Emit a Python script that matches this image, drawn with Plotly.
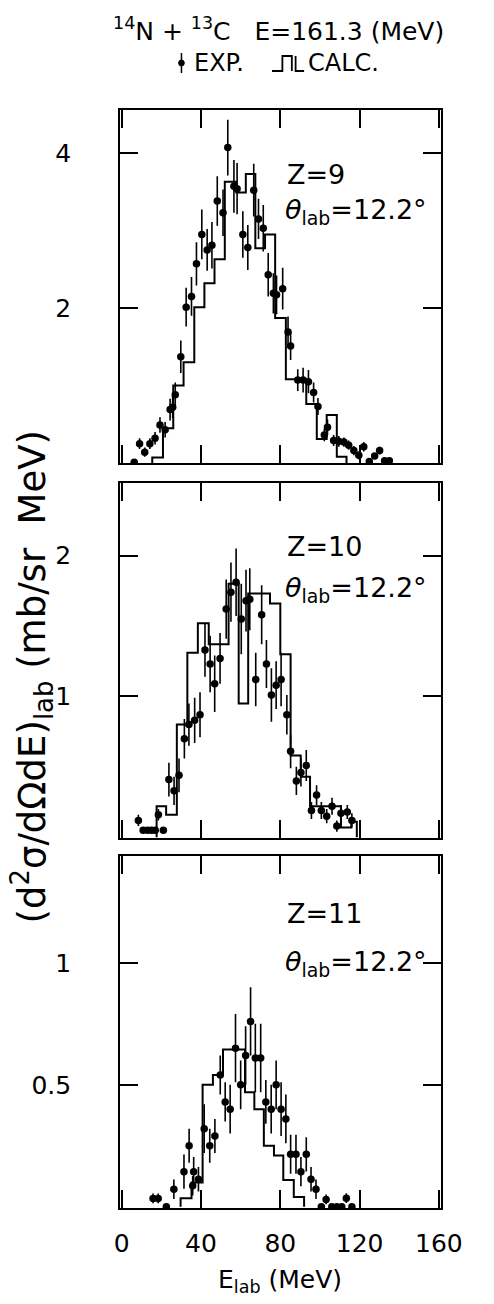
import plotly.graph_objects as go

# ---------------- data ----------------
# Panel Z=9
z9_E = [6.3, 9.0, 11.6, 14.2, 16.8, 19.3, 21.9, 24.4, 25.7, 27.0, 29.8, 32.5, 35.2, 37.7, 40.4,
        43.1, 45.5, 48.2, 51.1, 53.5, 56.6, 58.2, 61.1, 63.6, 66.6, 69.0, 71.4, 73.9, 76.5, 78.1,
        81.2, 83.9, 85.2, 88.8, 91.5, 94.2, 96.8, 99.0, 102.2, 103.8, 106.9, 109.5, 112.1, 114.5,
        117.1, 119.6, 122.1, 124.9, 127.6, 130.1, 132.6, 135.0]
z9_v = [0.01, 0.25, 0.14, 0.25, 0.32, 0.49, 0.43, 0.69, 0.72, 0.88, 1.37, 2.01, 2.15, 2.57, 2.95,
        2.75, 2.81, 3.38, 3.23, 4.07, 3.57, 3.54, 2.95, 2.78, 3.52, 3.15, 3.03, 2.43, 2.19, 2.17,
        2.25, 1.69, 1.51, 1.07, 1.07, 1.05, 0.91, 0.73, 0.36, 0.46, 0.29, 0.28, 0.27, 0.23,
        0.16, 0.10, 0.21, 0.02, 0.09, 0.16, 0.03, 0.03]
z9_err = [0.02, 0.07, 0.06, 0.07, 0.08, 0.10, 0.10, 0.14, 0.14, 0.16, 0.21, 0.25, 0.25, 0.28, 0.32,
          0.27, 0.30, 0.32, 0.30, 0.36, 0.34, 0.33, 0.30, 0.29, 0.34, 0.26, 0.30, 0.28, 0.26, 0.25,
          0.27, 0.20, 0.18, 0.14, 0.16, 0.15, 0.13, 0.11, 0.08, 0.10, 0.07, 0.07, 0.06, 0.06,
          0.06, 0.05, 0.06, 0.02, 0.04, 0.05, 0.02, 0.02]
z9_edges = [15.4, 20.8, 26.0, 31.2, 36.6, 41.7, 46.8, 52.0, 57.8, 62.6, 67.4, 72.3, 77.4, 82.8,
            93.1, 98.4, 103.4, 108.5, 113.4]
z9_calc = [0.07, 0.45, 1.00, 1.30, 2.01, 2.32, 2.63, 3.63, 3.49, 3.73, 2.77, 2.95, 1.87, 1.08,
           0.76, 0.31, 0.62, 0.08]

# Panel Z=10
z10_E = [8.4, 10.8, 13.0, 15.0, 16.9, 18.5, 21.0, 23.8, 26.4, 28.9, 31.6, 33.9, 36.8, 39.5, 42.0,
         44.6, 46.9, 49.6, 52.7, 55.1, 57.7, 60.3, 62.7, 64.6, 67.6, 70.6, 73.0, 75.5, 77.9, 80.4,
         83.3, 85.2, 88.1, 90.4, 93.1, 95.7, 98.3, 100.7, 103.4, 106.1, 108.5, 110.6, 113.8, 116.1]
z10_v = [0.12, 0.05, 0.05, 0.05, 0.05, 0.16, 0.05, 0.41, 0.33, 0.44, 0.70, 0.80, 0.83, 0.87, 1.33,
         1.23, 1.09, 1.27, 1.62, 1.74, 1.81, 1.55, 1.68, 1.69, 1.12, 1.58, 1.23, 1.01, 1.08, 1.12,
         0.87, 0.61, 0.40, 0.46, 0.51, 0.19, 0.30, 0.19, 0.15, 0.22, 0.08, 0.17, 0.18, 0.12]
z10_err = [0.04, 0.02, 0.02, 0.02, 0.02, 0.04, 0.02, 0.12, 0.10, 0.12, 0.14, 0.15, 0.16, 0.16, 0.19,
           0.20, 0.20, 0.18, 0.21, 0.21, 0.24, 0.25, 0.22, 0.22, 0.19, 0.21, 0.17, 0.19, 0.17, 0.19,
           0.14, 0.12, 0.10, 0.10, 0.11, 0.06, 0.07, 0.06, 0.05, 0.06, 0.04, 0.06, 0.05, 0.05]
z10_edges = [17.6, 22.4, 27.8, 33.1, 38.4, 43.9, 53.9, 59.0, 63.8, 74.8, 80.0, 85.2, 90.3, 95.0,
             110.6, 115.8, 118.6]
z10_calc = [0.22, 0.16, 0.80, 1.31, 1.52, 1.37, 1.80, 0.95, 1.73, 1.66, 1.30, 0.58, 0.43, 0.22,
            0.07, 0.11]

# Panel Z=11
z11_E = [15.8, 18.4, 22.5, 26.3, 31.4, 34.0, 35.8, 36.3, 38.7, 41.6, 44.4, 47.0, 49.7, 52.2, 54.7,
         57.4, 60.0, 62.5, 65.0, 67.4, 70.1, 72.7, 75.4, 77.9, 80.4, 82.8, 85.2, 87.9, 90.4, 93.1,
         95.5, 98.0, 100.7, 103.1, 106.0, 108.5, 111.0, 113.3, 116.1]
z11_v = [0.034, 0.034, 0.0, 0.072, 0.144, 0.25, 0.086, 0.144, 0.113, 0.32, 0.25, 0.29, 0.54, 0.43, 0.40,
         0.65, 0.50, 0.62, 0.76, 0.61, 0.61, 0.43, 0.40, 0.50, 0.40, 0.36, 0.215, 0.215, 0.144, 0.215,
         0.113, 0.072, 0.0, 0.03, 0.0, 0.0, 0.0, 0.035, 0.0]
z11_err = [0.02, 0.02, 0.0, 0.04, 0.07, 0.07, 0.04, 0.06, 0.05, 0.10, 0.07, 0.07, 0.08, 0.08, 0.10,
           0.14, 0.10, 0.12, 0.14, 0.14, 0.14, 0.09, 0.10, 0.10, 0.11, 0.10, 0.08, 0.08, 0.06, 0.07,
           0.05, 0.04, 0.0, 0.02, 0.0, 0.0, 0.0, 0.02, 0.0]
z11_edges = [29.7, 35.2, 40.8, 46.0, 51.1, 56.6, 62.2, 66.9, 71.7, 76.8, 81.5, 86.8, 92.0]
z11_calc = [0.035, 0.10, 0.50, 0.54, 0.645, 0.645, 0.47, 0.40, 0.25, 0.21, 0.11, 0.04]

x_ticks = [0, 40, 80, 120, 160]
x_ticklabels = ["0", "40", "80", "120", "160"]
y_ticks = [[2, 4], [1, 2], [0.5, 1]]
y_ticklabels = [["2", "4"], ["1", "2"], ["0.5", "1"]]
y_ranges = [[0, 4.555], [-0.005, 2.515], [-0.005, 1.438]]
panel_labels = ["Z=9", "Z=10", "Z=11"]

# ---------------- layout helpers ----------------
W, H = 494, 1304
FONT = "DejaVu Sans"


def px(x):
    return x / W


def py(y):
    return 1 - y / H


panel_px = [(110, 463), (483, 838), (856, 1208)]
x_dom = [px(121), px(461)]

fig = go.Figure()

datasets = [(z9_E, z9_v, z9_err, z9_edges, z9_calc),
            (z10_E, z10_v, z10_err, z10_edges, z10_calc),
            (z11_E, z11_v, z11_err, z11_edges, z11_calc)]

for i, (E, v, err, edges, calc) in enumerate(datasets):
    xa = "x" if i == 0 else f"x{i+1}"
    ya = "y" if i == 0 else f"y{i+1}"
    # step histogram built from bin edges and values
    hx = [edges[0]] + edges[:-1] + [edges[-1]]
    hy = [0] + calc + [0]
    fig.add_trace(go.Scatter(x=hx, y=hy, mode="lines", line=dict(color="black", width=2, shape="hv"),
                             xaxis=xa, yaxis=ya, hoverinfo="skip"))
    fig.add_trace(go.Scatter(x=E, y=v, mode="markers",
                             marker=dict(color="black", size=7.5),
                             error_y=dict(type="data", array=err, visible=True, thickness=1.6,
                                          width=0, color="black"),
                             xaxis=xa, yaxis=ya))

axis_common = dict(showline=True, linecolor="black", linewidth=2, mirror="ticks",
                   ticks="inside", ticklen=18, tickwidth=2, tickcolor="black",
                   showgrid=False, zeroline=False)

layout = dict(width=W, height=H, margin=dict(l=0, r=0, t=0, b=0),
              plot_bgcolor="white", paper_bgcolor="white", showlegend=False,
              font=dict(family=FONT, color="black", size=25))

for i in range(3):
    top, bot = panel_px[i]
    xk = "xaxis" if i == 0 else f"xaxis{i+1}"
    yk = "yaxis" if i == 0 else f"yaxis{i+1}"
    yname = "y" if i == 0 else f"y{i+1}"
    xname = "x" if i == 0 else f"x{i+1}"
    layout[xk] = dict(axis_common, domain=x_dom, range=[-0.8, 161], anchor=yname,
                      tickvals=x_ticks, ticktext=x_ticklabels,
                      showticklabels=(i == 2), tickfont=dict(size=25, family=FONT),
                      ticklabelstandoff=12)
    layout[yk] = dict(axis_common, domain=[py(bot), py(top)], range=y_ranges[i], anchor=xname,
                      tickvals=y_ticks[i], ticktext=y_ticklabels[i],
                      tickfont=dict(size=25, family=FONT), ticklabelstandoff=42)

fig.update_layout(**layout)

ann = []
# title and legend line
ann.append(dict(x=px(289), y=py(30), xref="paper", yref="paper", showarrow=False,
                text="<sup>14</sup>N + <sup>13</sup>C   E=161.3 (MeV)", font=dict(size=25),
                xanchor="center", yanchor="middle"))
ann.append(dict(x=px(197), y=py(63), xref="paper", yref="paper", showarrow=False,
                text="EXP.", font=dict(size=24), xanchor="left", yanchor="middle"))
ann.append(dict(x=px(318), y=py(63), xref="paper", yref="paper", showarrow=False,
                text="CALC.", font=dict(size=24), xanchor="left", yanchor="middle"))
# panel labels
z_y = [175, 546, 914]
th_y = [211, 589, 963]
for i in range(3):
    ann.append(dict(x=px(296), y=py(z_y[i]), xref="paper", yref="paper", showarrow=False,
                    text=panel_labels[i], font=dict(size=27), xanchor="left", yanchor="middle"))
    ann.append(dict(x=px(294), y=py(th_y[i]), xref="paper", yref="paper", showarrow=False,
                    text="<i>θ</i><sub>lab</sub>=12.2°", font=dict(size=27),
                    xanchor="left", yanchor="middle"))
# axis titles
ann.append(dict(x=px(27), y=py(676), xref="paper", yref="paper", showarrow=False,
                text="(d<sup>2</sup>σ/dΩdE)<sub>lab</sub> (mb/sr  MeV)", textangle=-90,
                font=dict(size=37), xanchor="center", yanchor="middle"))
ann.append(dict(x=px(290), y=py(1281), xref="paper", yref="paper", showarrow=False,
                text="E<sub>lab</sub> (MeV)", font=dict(size=25),
                xanchor="center", yanchor="middle"))
fig.update_layout(annotations=ann)

# legend glyphs
shapes = []
shapes.append(dict(type="line", xref="paper", yref="paper", x0=px(186), x1=px(186),
                   y0=py(53), y1=py(73), line=dict(color="black", width=1.5)))
shapes.append(dict(type="circle", xref="paper", yref="paper", x0=px(183), x1=px(189),
                   y0=py(60), y1=py(66), fillcolor="black", line=dict(color="black", width=1)))
p = [(282, 71), (293, 71), (293, 56), (303, 56), (303, 71)]
p2 = [(307, 56), (307, 71), (316, 71)]
path = "M " + " L ".join(f"{px(a)},{py(b)}" for a, b in p) + " M " + \
       " L ".join(f"{px(a)},{py(b)}" for a, b in p2)
shapes.append(dict(type="path", xref="paper", yref="paper", path=path,
                   line=dict(color="black", width=1.8)))
fig.update_layout(shapes=shapes)

fig.write_html("out.html", config={"displayModeBar": False},
               post_script="document.body.style.margin='0';")
